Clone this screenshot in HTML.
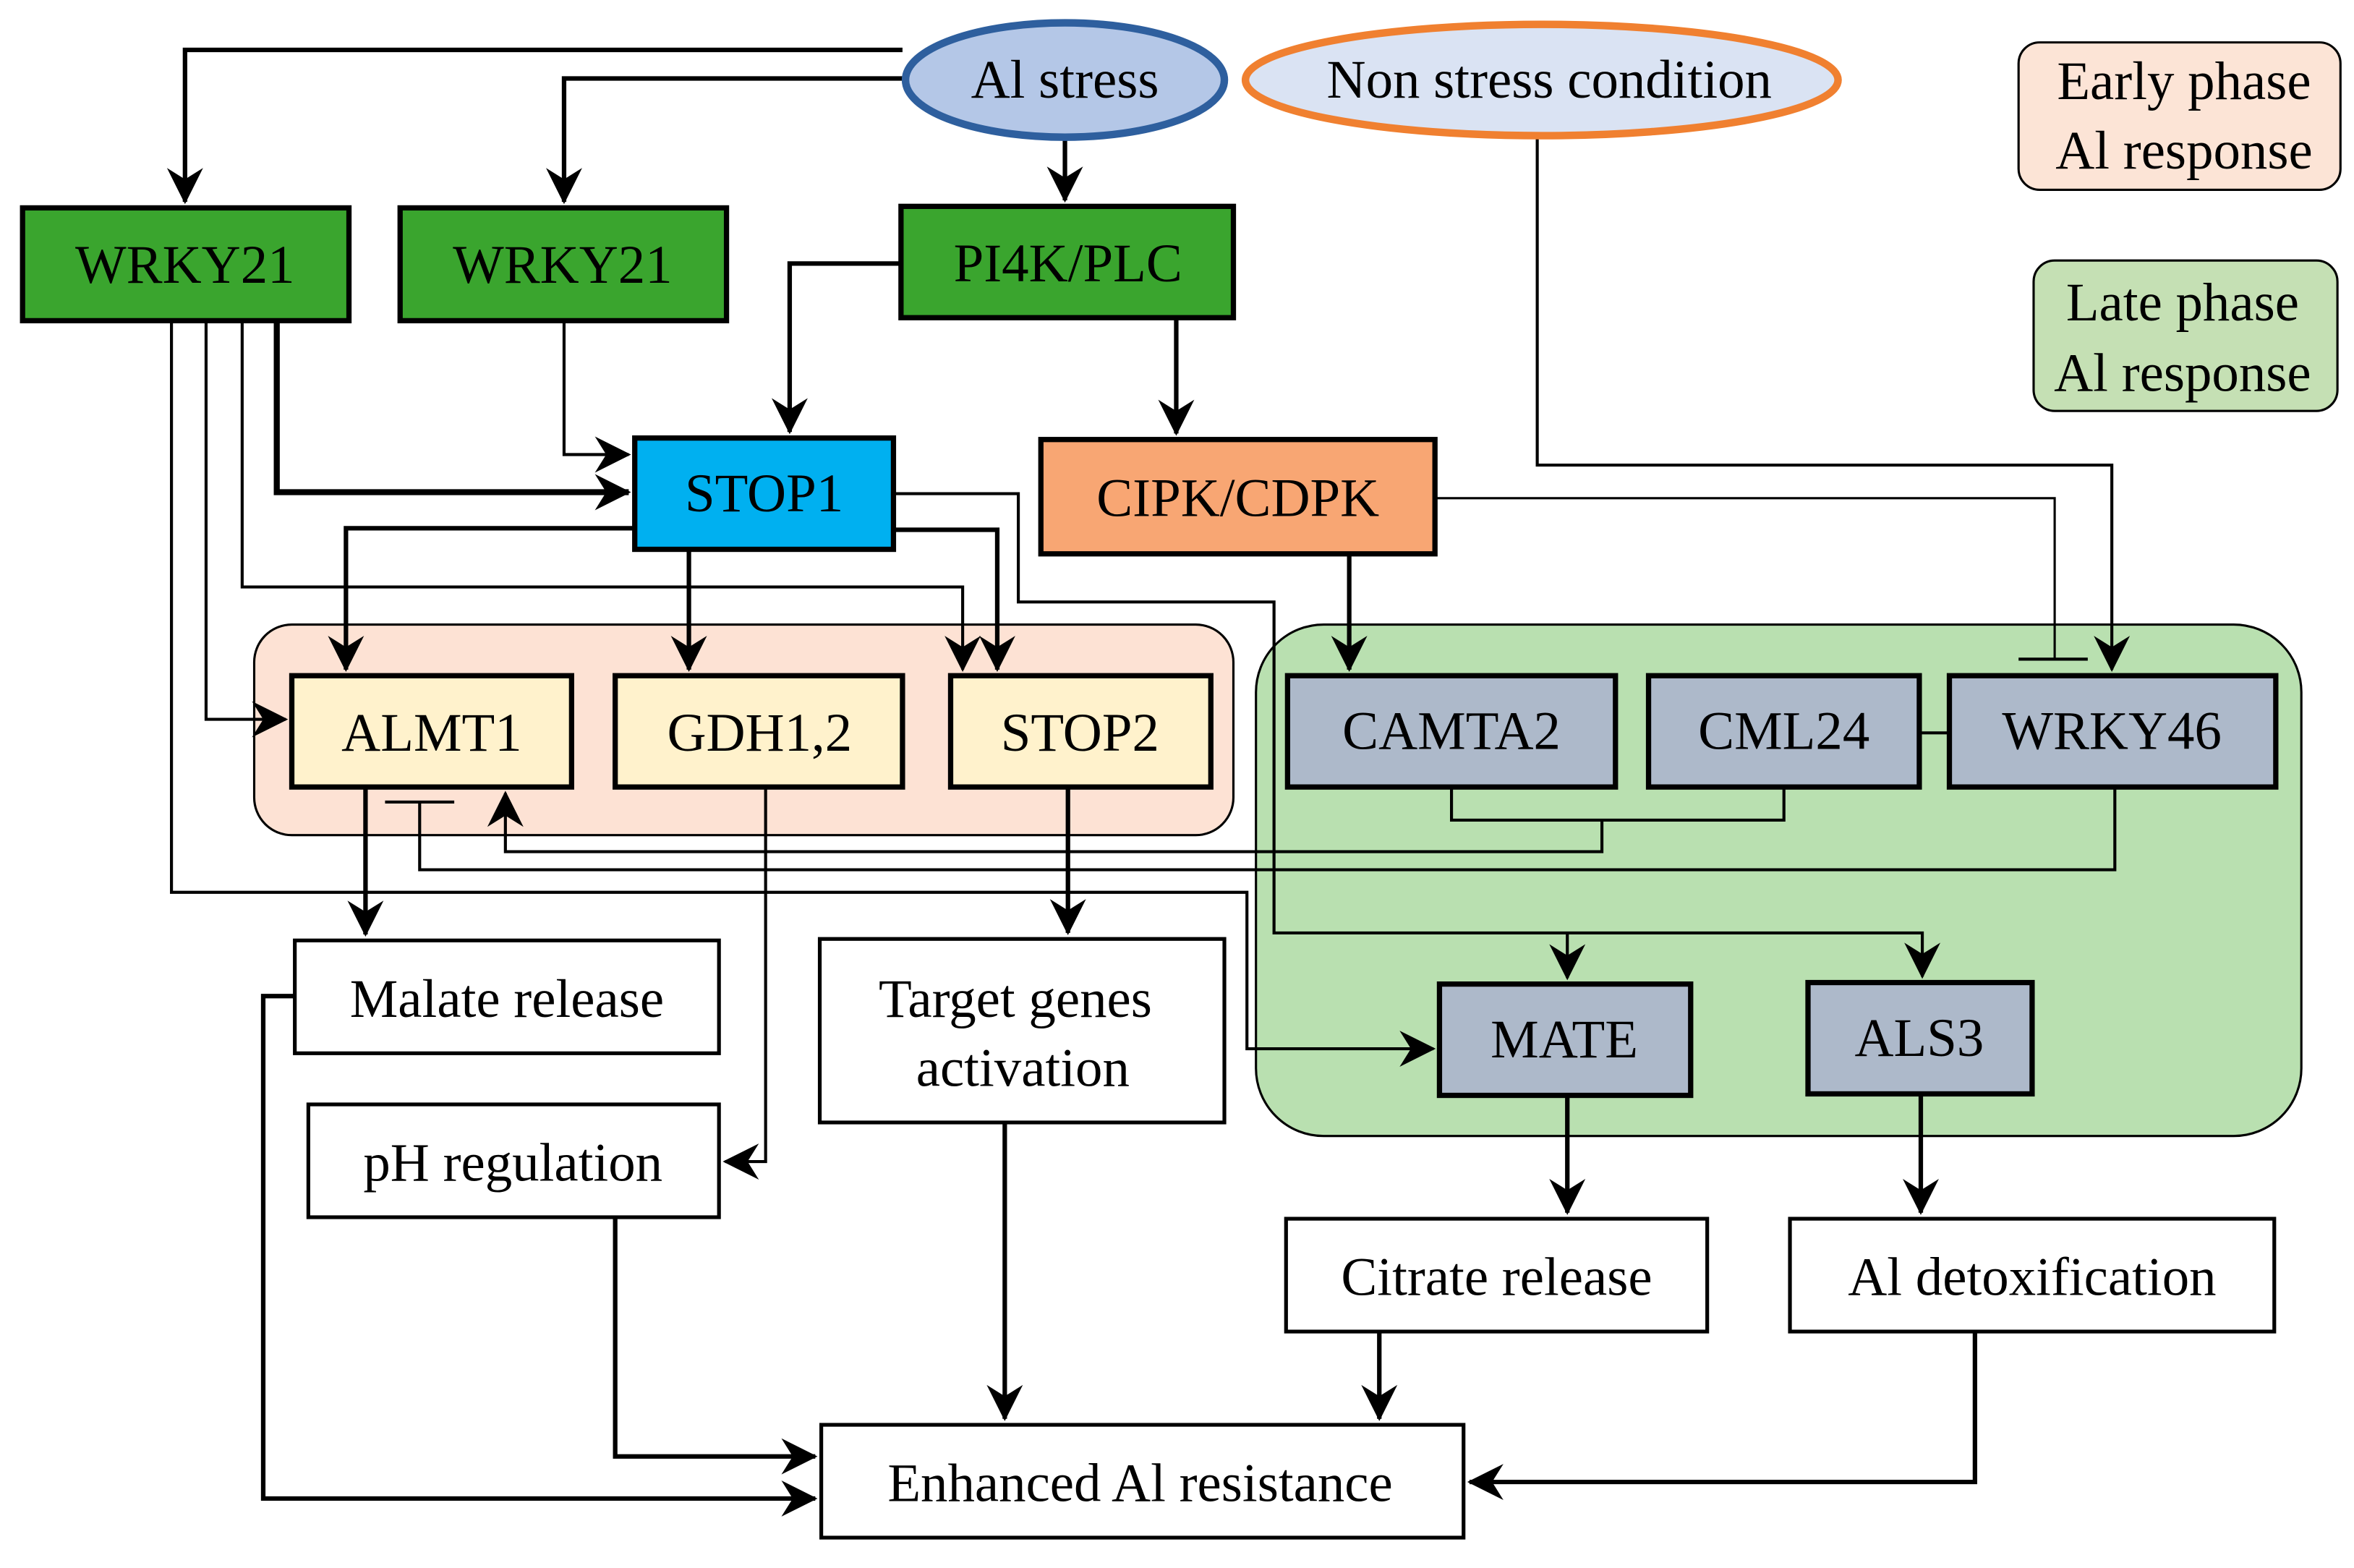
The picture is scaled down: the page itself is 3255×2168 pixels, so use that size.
<!DOCTYPE html>
<html><head><meta charset="utf-8"><style>
html,body{margin:0;padding:0;background:#fff}
svg{display:block}
text{font-family:"Liberation Serif","Times New Roman",Times,"DejaVu Serif",serif;font-size:36px;fill:#000;text-anchor:middle;dominant-baseline:central}
</style></head><body>
<svg width="3255" height="2168" viewBox="0 0 1565 1042" xmlns="http://www.w3.org/2000/svg" font-family="Liberation Serif, Times New Roman, serif">
<defs>
<marker id="a" markerUnits="userSpaceOnUse" markerWidth="30" markerHeight="30" refX="0" refY="0" viewBox="-16 -10 18 20" orient="auto">
<path d="M1,0 L-15,-8 L-10,0 L-15,8 Z" fill="#000"/>
</marker>
</defs>
<rect x="169" y="415" width="651" height="140" rx="25" fill="#fde2d4" stroke="#000" stroke-width="1.5"/>
<rect x="835" y="415" width="695" height="340" rx="45" fill="#b9e0b0" stroke="#000" stroke-width="1.5"/>
<rect x="1342" y="28" width="214" height="98" rx="14" fill="#fce4d6" stroke="#000" stroke-width="1.5"/>
<text x="1452" y="54">Early phase</text><text x="1452" y="100">Al response</text>
<rect x="1352" y="173" width="202" height="100" rx="14" fill="#c5e0b4" stroke="#000" stroke-width="1.5"/>
<text x="1451" y="201">Late phase</text><text x="1451" y="248">Al response</text>
<g fill="none" stroke="#000" stroke-width="3">
<path d="M600,33 H123 V134" marker-end="url(#a)"/>
<path d="M600,52 H375 V134" marker-end="url(#a)"/>
<path d="M708,91 V133" marker-end="url(#a)"/>
<path d="M599,175 H525 V287" marker-end="url(#a)"/>
<path d="M782,211 V288" marker-end="url(#a)"/>
<path d="M375,213 V302 H418" stroke-width="2" marker-end="url(#a)"/>
<path d="M184,213 V327 H418" stroke-width="4" marker-end="url(#a)"/>
<path d="M161,213 V390 H640 V445" stroke-width="2" marker-end="url(#a)"/>
<path d="M137,213 V478 H190" stroke-width="2" marker-end="url(#a)"/>
<path d="M114,213 V593 H829 V697 H953" stroke-width="2" marker-end="url(#a)"/>
<path d="M422,351 H230 V445" marker-end="url(#a)"/>
<path d="M458,365 V445" marker-end="url(#a)"/>
<path d="M594,352 H663 V445" marker-end="url(#a)"/>
<path d="M594,328 H677 V400 H847 V620 H1278 V649" stroke-width="2" marker-end="url(#a)"/>
<path d="M1042,620 V650" stroke-width="2" marker-end="url(#a)"/>
<path d="M1022,91 V309 H1404 V445" stroke-width="2" marker-end="url(#a)"/>
<path d="M954,331 H1366 V438" stroke-width="1.5"/>
<path d="M1342,438 H1388" stroke-width="2"/>
<path d="M897,368 V445" marker-end="url(#a)"/>
<path d="M1276,487 H1296" stroke-width="2"/>
<path d="M965,523 V545 H1186 V523" stroke-width="2"/>
<path d="M1065,545 V566 H336 V527" stroke-width="2" marker-end="url(#a)"/>
<path d="M1406,523 V578 H279 V533" stroke-width="2"/>
<path d="M256,533 H302" stroke-width="2"/>
<path d="M243,523 V621" marker-end="url(#a)"/>
<path d="M509,523 V772 H482" stroke-width="2" marker-end="url(#a)"/>
<path d="M710,523 V620" marker-end="url(#a)"/>
<path d="M196,662 H175 V996 H542" marker-end="url(#a)"/>
<path d="M409,809 V968 H542" marker-end="url(#a)"/>
<path d="M668,746 V943" marker-end="url(#a)"/>
<path d="M917,885 V943" marker-end="url(#a)"/>
<path d="M1042,728 V806" marker-end="url(#a)"/>
<path d="M1277,727 V806" marker-end="url(#a)"/>
<path d="M1313,885 V985 H977" marker-end="url(#a)"/>
</g>
<ellipse cx="708" cy="53" rx="106" ry="38" fill="#b4c7e7" stroke="#2e5f9e" stroke-width="5"/>
<text x="708" y="53">Al stress</text>
<ellipse cx="1025" cy="53" rx="197" ry="37" fill="#dae3f3" stroke="#f08030" stroke-width="5"/>
<text x="1030" y="53">Non stress condition</text>
<g stroke="#000" stroke-width="3.5">
<rect x="15" y="138" width="217" height="75" fill="#3aa52e"/>
<rect x="266" y="138" width="217" height="75" fill="#3aa52e"/>
<rect x="599" y="137" width="221" height="74" fill="#3aa52e"/>
<rect x="422" y="291" width="172" height="74" fill="#00b0f0"/>
<rect x="692" y="292" width="262" height="76" fill="#f8a673"/>
<rect x="194" y="449" width="186" height="74" fill="#fff2cc"/>
<rect x="409" y="449" width="191" height="74" fill="#fff2cc"/>
<rect x="632" y="449" width="173" height="74" fill="#fff2cc"/>
<rect x="856" y="449" width="218" height="74" fill="#adb9ca"/>
<rect x="1096" y="449" width="180" height="74" fill="#adb9ca"/>
<rect x="1296" y="449" width="217" height="74" fill="#adb9ca"/>
<rect x="957" y="654" width="167" height="74" fill="#adb9ca"/>
<rect x="1202" y="653" width="149" height="74" fill="#adb9ca"/>
</g>
<g stroke="#000" stroke-width="2.5" fill="#fff">
<rect x="196" y="625" width="282" height="75"/>
<rect x="545" y="624" width="269" height="122"/>
<rect x="205" y="734" width="273" height="75"/>
<rect x="855" y="810" width="280" height="75"/>
<rect x="1190" y="810" width="322" height="75"/>
<rect x="546" y="947" width="427" height="75"/>
</g>
<text x="123" y="176">WRKY21</text>
<text x="374" y="176">WRKY21</text>
<text x="710" y="175">PI4K/PLC</text>
<text x="508" y="328">STOP1</text>
<text x="823" y="331">CIPK/CDPK</text>
<text x="287" y="487">ALMT1</text>
<text x="505" y="487">GDH1,2</text>
<text x="718" y="487">STOP2</text>
<text x="965" y="486">CAMTA2</text>
<text x="1186" y="486">CML24</text>
<text x="1404" y="486">WRKY46</text>
<text x="1040" y="691">MATE</text>
<text x="1276" y="690">ALS3</text>
<text x="337" y="664">Malate release</text>
<text x="675" y="664">Target genes</text>
<text x="680" y="710">activation</text>
<text x="341" y="773">pH regulation</text>
<text x="995" y="849">Citrate release</text>
<text x="1351" y="849">Al detoxification</text>
<text x="758" y="986">Enhanced Al resistance</text>
</svg>
</body></html>
